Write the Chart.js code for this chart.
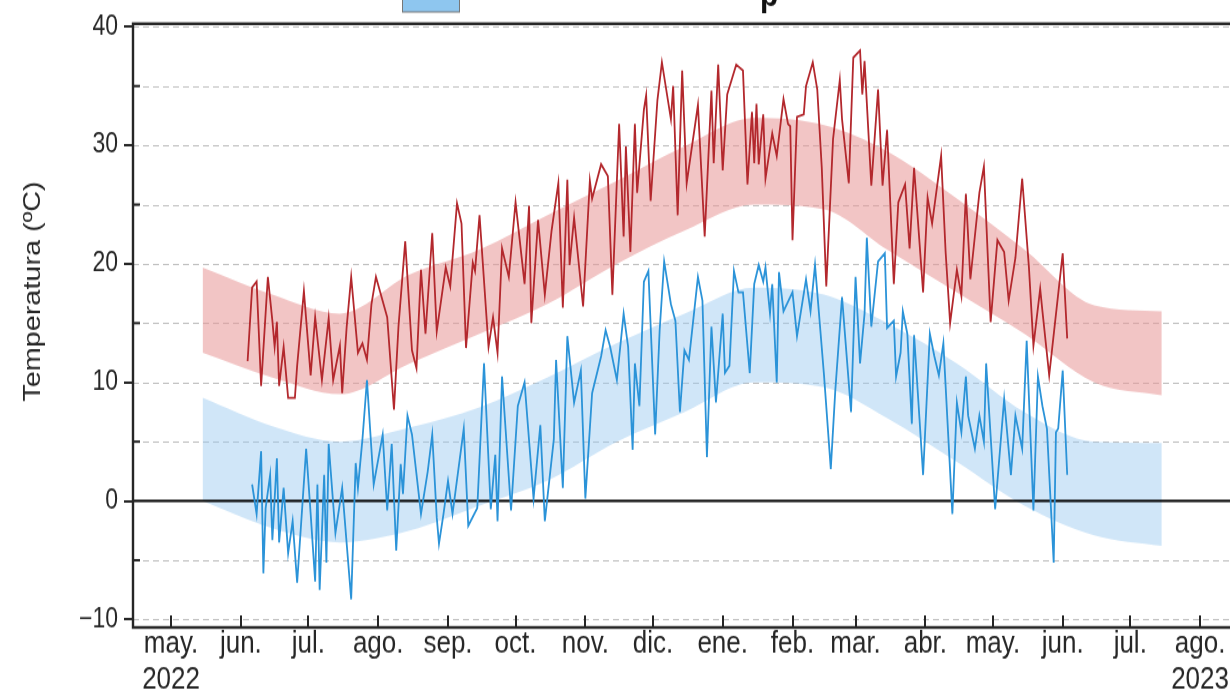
<!DOCTYPE html>
<html>
<head>
<meta charset="utf-8">
<script src="https://cdn.jsdelivr.net/npm/chart.js@4.4.0/dist/chart.umd.min.js"></script>
<style>
  html, body { margin: 0; padding: 0; background: #fff; overflow: hidden; }
</style>
</head>
<body>
<!-- the reference is stretched vertically, so the canvas is drawn short and shown tall -->
<canvas id="temps" width="1230" height="576" style="display:block;width:1230px;height:691px"></canvas>
<script>
// x values are days counted from 1 May 2022
var tickDays = [0, 31, 61, 92, 123, 153, 184, 214, 245, 276, 304, 335, 365, 396, 426, 457];
var tickLabels = [['may.', '2022'], 'jun.', 'jul.', 'ago.', 'sep.', 'oct.', 'nov.', 'dic.',
    'ene.', 'feb.', 'mar.', 'abr.', 'may.', 'jun.', 'jul.', ['ago.', '2023']];
var yTicks = [-10, 0, 10, 20, 30, 40];
var yTitle = 'Temperatura (ºC)';

// daily maximum temperature (ºC)
var maxDays = [34, 36, 38, 40, 43, 45, 46, 47, 48, 50, 52, 55, 56, 59, 62, 64, 67, 70, 72, 75, 76, 78, 80, 83, 85, 87, 89, 91, 96, 99,
    101, 104, 107, 109, 111, 113, 116, 118, 122, 124, 127, 129, 131, 134, 135, 137, 141, 143, 145, 147, 150, 153, 157, 159, 160, 163, 166, 169,
    172, 174, 176, 177, 179, 183, 186, 187, 191, 194, 196, 199, 201, 202, 204, 206, 207, 210, 211, 213, 216, 218, 222, 223, 225, 227, 229,
    234, 237, 240, 241, 243, 245, 247, 251, 254, 256, 258, 259, 260, 261, 263, 264, 267, 269, 272, 274, 275, 276, 278, 281, 282, 285, 287,
    289, 291, 294, 297, 298, 301, 303, 306, 307, 308, 311, 314, 316, 318, 321, 323, 326, 328, 330, 334, 336, 338, 342, 344, 346, 349, 351,
    353, 355, 359, 361, 364, 367, 370, 372, 375, 378, 381, 383, 386, 387, 390, 396, 398];
var maxTemps = [11.8, 18.0, 18.5, 9.7, 18.9, 15.2, 13.0, 15.1, 9.7, 13.0, 8.7, 8.7, 11.4, 17.7, 10.6, 15.5, 10.2, 15.4, 10.2, 13.1, 9.1, 14.7, 18.9, 12.5, 13.3, 11.9, 16.6, 18.9, 15.5, 7.7,
    14.7, 21.9, 12.7, 11.2, 19.5, 14.1, 22.6, 14.3, 19.7, 18.1, 25.1, 23.4, 12.9, 20.1, 19.4, 24.1, 13.0, 15.5, 12.5, 21.3, 18.9, 25.2, 18.3, 24.9, 15.0, 23.7, 17.4, 22.8,
    26.8, 16.3, 27.1, 19.9, 23.9, 16.4, 27.0, 25.5, 28.4, 27.4, 17.4, 31.8, 22.3, 29.9, 21.0, 31.8, 26.0, 33.0, 34.2, 25.3, 33.8, 37.0, 32.2, 35.0, 24.1, 36.3, 26.8,
    33.4, 22.3, 34.6, 28.5, 36.8, 27.9, 34.3, 36.8, 36.3, 26.7, 32.8, 28.5, 33.5, 28.4, 32.6, 27.2, 31.0, 29.1, 33.9, 31.8, 31.6, 22.0, 32.4, 32.6, 35.0, 37.0, 34.7,
    28.1, 18.1, 30.5, 35.5, 32.2, 26.8, 37.4, 38.0, 34.3, 37.1, 26.6, 34.7, 26.6, 31.3, 18.3, 25.2, 26.7, 21.3, 28.1, 17.6, 25.6, 23.4, 29.1, 21.0, 15.0, 19.5, 17.3,
    25.9, 18.7, 26.0, 28.2, 15.1, 22.0, 21.0, 16.9, 20.5, 27.2, 19.7, 13.1, 17.9, 16.0, 10.6, 20.9, 13.7];

// daily minimum temperature (ºC)
var minDays = [36, 38, 40, 41, 42, 44, 45, 47, 48, 50, 52, 54, 56, 60, 62, 64, 65, 66, 68, 69, 70, 73, 76, 80, 82, 83, 85, 87, 90, 94,
    96, 98, 100, 102, 103, 105, 107, 111, 114, 116, 118, 119, 121, 123, 125, 130, 132, 136, 139, 142, 144, 145, 147, 151, 154, 157, 161, 164,
    166, 170, 171, 174, 176, 179, 182, 184, 187, 191, 193, 195, 198, 201, 203, 205, 206, 208, 210, 212, 215, 217, 219, 222, 224, 226, 228,
    230, 234, 236, 238, 240, 242, 245, 246, 248, 250, 252, 254, 257, 259, 261, 263, 264, 266, 267, 269, 270, 272, 276, 278, 282, 284, 286,
    290, 293, 295, 298, 302, 304, 306, 308, 309, 311, 314, 317, 318, 321, 322, 324, 325, 327, 329, 330, 334, 337, 339, 341, 343, 347, 349,
    351, 353, 354, 357, 359, 361, 362, 366, 370, 373, 375, 378, 380, 383, 385, 387, 389, 392, 393, 394, 396, 398];
var minTemps = [1.4, -1.1, 4.2, -6.1, -0.6, 2.2, -3.3, 3.6, -3.5, 1.1, -4.4, -1.7, -6.9, 4.4, -1.1, -6.8, 1.4, -7.5, 2.2, -5.2, 4.8, -2.7, 1.1, -8.3, 3.2, 1.1, 5.2, 10.2, 1.4, 5.6,
    -0.8, 4.8, -4.2, 3.1, 0.6, 7.2, 5.6, -1.1, 2.5, 5.6, -1.4, -3.6, -1.1, 1.7, -1.1, 6.1, -2.1, -0.6, 11.6, -0.7, 3.9, -1.7, 10.5, -0.8, 8.0, 10.0, 0.2, 6.4,
    -1.7, 5.2, 11.9, 1.1, 13.9, 8.3, 11.0, 0.2, 9.1, 12.2, 14.4, 13.0, 10.2, 15.8, 13.0, 4.3, 11.6, 8.0, 18.5, 19.4, 5.6, 14.4, 20.2, 16.6, 15.2, 7.5, 12.7,
    11.9, 18.9, 16.9, 3.7, 14.7, 8.3, 15.8, 10.8, 11.4, 19.4, 17.6, 17.6, 10.8, 18.3, 19.9, 18.5, 19.7, 15.8, 18.3, 10.0, 19.3, 16.0, 17.6, 13.9, 18.7, 16.0, 19.9,
    10.6, 2.7, 9.3, 17.2, 7.5, 18.9, 11.6, 15.8, 22.2, 14.7, 20.2, 20.9, 14.6, 15.2, 10.5, 12.5, 16.0, 14.1, 6.5, 14.0, 2.2, 14.1, 12.2, 10.6, 13.3, -1.1, 8.3,
    5.8, 10.5, 7.2, 4.4, 7.2, 5.0, 11.6, -0.7, 8.6, 2.2, 7.2, 4.4, 13.5, -0.8, 10.5, 8.0, 6.1, -5.2, 5.8, 6.1, 11.0, 2.2];

// normal range of max and min temperature, mid-month
var bandDays = [14, 45, 75, 106, 137, 167, 198, 228, 259, 290, 318, 349, 379, 410, 440];
var maxHigh = [19.7, 17.4, 15.8, 19.1, 21.2, 24.1, 27.0, 29.9, 32.3, 31.7, 29.5, 25.5, 21.2, 16.5, 16.0];
var maxLow = [12.5, 10.4, 9.0, 11.6, 14.1, 16.6, 20.0, 22.8, 25.0, 24.6, 21.2, 17.6, 14.1, 10.0, 8.9];
var minHigh = [8.7, 6.3, 5.0, 6.2, 7.9, 10.4, 13.3, 15.8, 18.0, 17.4, 15.0, 11.6, 7.5, 5.0, 4.9];
var minLow = [0.0, -2.3, -3.5, -2.5, -0.4, 1.7, 5.0, 7.5, 10.0, 9.6, 7.0, 3.3, -0.4, -2.9, -3.8];

function pts(xs, ys) {
    return xs.map((d, i) => ({ x: d, y: ys[i] }));
}

var ink = '#262626';
var fontFamily = "'Liberation Sans', Arial, sans-serif";
Chart.defaults.font.family = fontFamily;
Chart.defaults.color = ink;

// dashed grid, zero line, frame and inner ticks like the matplotlib original
var axesDeco = {
    id: 'axesDeco',
    beforeDatasetsDraw(chart) {
        var ctx = chart.ctx, a = chart.chartArea, y = chart.scales.y;
        ctx.save();
        ctx.strokeStyle = '#bdbdbd';
        ctx.lineWidth = 1.2;
        ctx.setLineDash([6, 4]);
        for (var v = -10; v <= 40; v += 5) {
            if (v === 0) continue;
            var py = Math.round(y.getPixelForValue(v)) + 0.5;
            ctx.beginPath();
            ctx.moveTo(a.left, py);
            ctx.lineTo(a.right, py);
            ctx.stroke();
        }
        ctx.restore();
    },
    afterDatasetDraw(chart, args) {
        if (args.index !== 2) return;   // after the bands, before the lines
        var ctx = chart.ctx, a = chart.chartArea;
        var py = chart.scales.y.getPixelForValue(0);
        ctx.save();
        ctx.strokeStyle = '#000';
        ctx.lineWidth = 2;
        ctx.beginPath();
        ctx.moveTo(a.left, py);
        ctx.lineTo(a.right, py);
        ctx.stroke();
        ctx.restore();
    },
    afterDraw(chart) {
        var ctx = chart.ctx, a = chart.chartArea, x = chart.scales.x, y = chart.scales.y;
        ctx.save();
        ctx.strokeStyle = ink;
        ctx.lineWidth = 2;
        tickDays.forEach(function (d) {
            var px = Math.round(x.getPixelForValue(d));
            ctx.beginPath();
            ctx.moveTo(px, a.bottom);
            ctx.lineTo(px, a.bottom - 10);
            ctx.stroke();
        });
        for (var v = -5; v <= 35; v += 10) {
            var py = y.getPixelForValue(v);
            ctx.beginPath();
            ctx.moveTo(a.left, py);
            ctx.lineTo(a.left + 7, py);
            ctx.stroke();
        }
        ctx.lineWidth = 2.4;
        ctx.strokeRect(a.left, a.top, a.right - a.left + 4, a.bottom - a.top);

        // y axis title, sitting a little above the middle as in the original
        ctx.save();
        ctx.translate(33, 243);
        ctx.rotate(-Math.PI / 2);
        ctx.fillStyle = ink;
        ctx.font = '24px ' + fontFamily;
        ctx.textAlign = 'center';
        ctx.textBaseline = 'middle';
        ctx.fillText(yTitle, 0, 0);
        ctx.restore();

        // pieces of the legend that the crop cut off at the top
        ctx.fillStyle = '#8ec6ef';
        ctx.fillRect(402, 0, 57, 10);
        ctx.lineWidth = 1;
        ctx.strokeStyle = '#777';
        ctx.strokeRect(402.5, -2, 57, 12);
        ctx.fillStyle = '#111';
        ctx.font = 'bold 30px ' + fontFamily;
        ctx.textBaseline = 'alphabetic';
        ctx.fillText('p', 760, 5);
        ctx.restore();
    }
};

var ctx = document.getElementById('temps').getContext('2d');
var chart = new Chart(ctx, {
    type: 'line',
    data: {
        datasets: [
            { label: 'Máxima', data: pts(maxDays, maxTemps), borderColor: '#b3282d', borderWidth: 1.8,
              pointRadius: 0, fill: false, tension: 0 },
            { label: 'Mínima', data: pts(minDays, minTemps), borderColor: '#2b93d8', borderWidth: 1.8,
              pointRadius: 0, fill: false, tension: 0 },
            { label: 'Máx. normal', data: pts(bandDays, maxHigh), borderWidth: 0, pointRadius: 0,
              backgroundColor: 'rgba(232, 150, 150, 0.55)', fill: '+1', cubicInterpolationMode: 'monotone' },
            { label: 'Máx. normal baja', data: pts(bandDays, maxLow), borderWidth: 0, pointRadius: 0,
              fill: false, cubicInterpolationMode: 'monotone' },
            { label: 'Mín. normal', data: pts(bandDays, minHigh), borderWidth: 0, pointRadius: 0,
              backgroundColor: 'rgba(150, 200, 240, 0.45)', fill: '+1', cubicInterpolationMode: 'monotone' },
            { label: 'Mín. normal baja', data: pts(bandDays, minLow), borderWidth: 0, pointRadius: 0,
              fill: false, cubicInterpolationMode: 'monotone' }
        ]
    },
    options: {
        responsive: false,
        animation: false,
        layout: { padding: { top: 14, right: 0, bottom: 0, left: 0 } },
        plugins: { legend: { display: false }, tooltip: { enabled: false } },
        scales: {
            x: {
                type: 'linear',
                min: -16.9,
                max: 470.3,
                afterBuildTicks: function (s) { s.ticks = tickDays.map(function (d) { return { value: d }; }); },
                afterFit: function (s) { s.height = 53; },
                grid: { display: false },
                border: { display: false },
                ticks: {
                    autoSkip: false, maxRotation: 0, padding: -9,
                    font: { size: 26, lineHeight: 1.15 },
                    callback: function (v, i) { return tickLabels[i]; }
                }
            },
            y: {
                min: -10.67,
                max: 40.25,
                afterBuildTicks: function (s) { s.ticks = yTicks.map(function (v) { return { value: v }; }); },
                afterFit: function (s) { s.width = 133; },
                grid: { drawOnChartArea: false, drawTicks: true, tickLength: 9, color: ink, lineWidth: 2 },
                border: { display: false },
                ticks: {
                    padding: 6,
                    font: { size: 23 },
                    callback: function (v) { return v < 0 ? '\u2212' + Math.abs(v) : String(v); }
                }
            }
        }
    },
    plugins: [axesDeco]
});
</script>
</body>
</html>
